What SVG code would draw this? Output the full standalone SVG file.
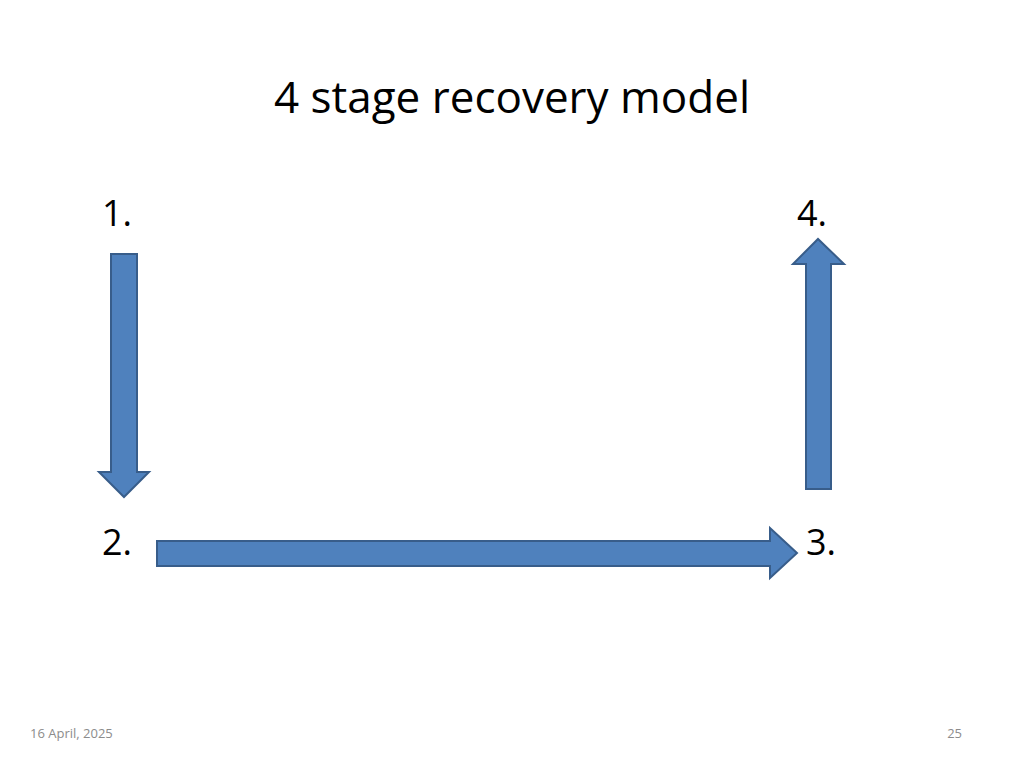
<svg xmlns="http://www.w3.org/2000/svg" width="1024" height="768" viewBox="0 0 1024 768">
<style>
.t{font-family:"Open Sans","Liberation Sans",sans-serif;fill:#000}
.a{fill:#4f81bd;stroke:#385d8a;stroke-width:2}
.f{font-family:"Open Sans","Liberation Sans",sans-serif;fill:#8c8c8c;font-size:13px}
</style>
<rect width="1024" height="768" fill="#fff"/>
<text class="t" x="512" y="113" font-size="44" text-anchor="middle">4 stage recovery model</text>
<g id="n1"><text class="t" x="102" y="226" font-size="36">1.</text></g>
<g id="n2"><text class="t" x="102" y="555" font-size="36">2.</text></g>
<g id="n3"><text class="t" x="806" y="555" font-size="36">3.</text></g>
<g id="n4"><text class="t" x="797" y="226" font-size="36">4.</text></g>
<g id="connectors">
<path class="a" d="M111,254 H137 V472 H149 L124,497 L99,472 H111 Z"/>
<path class="a" d="M157,541 H770 V528 L797,553 L770,578 V566 H157 Z"/>
<path class="a" d="M806,489 V264 H793 L818,239 L844,264 H831 V489 Z"/>
</g>
<text class="f" x="30" y="738">16 April, 2025</text>
<text class="f" x="962" y="738" text-anchor="end">25</text>
</svg>
